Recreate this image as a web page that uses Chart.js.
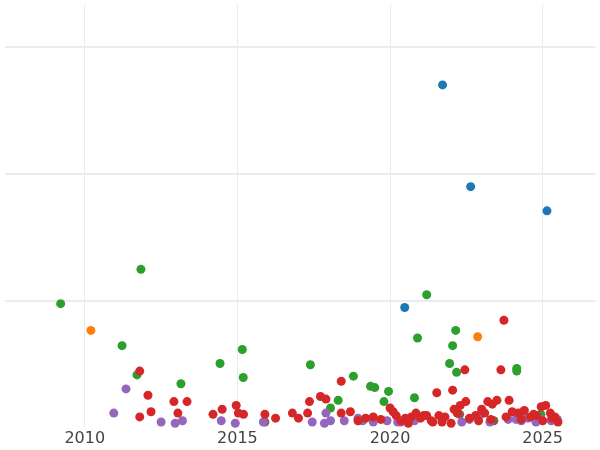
<!DOCTYPE html>
<html>
<head>
<script src="https://cdn.jsdelivr.net/npm/chart.js@4"></script>
<style>body{margin:0}#c{width:600px;height:450px}</style>
</head>
<body>
<div id="c"><canvas id="chart"></canvas></div>
<script>
const blueX = [2021.72, 2022.64, 2025.14, 2020.48];
const blueY = [270, 190, 171, 95];
const orangeX = [2010.2, 2022.87];
const orangeY = [77, 72];
const greenX = [2009.21, 2011.84, 2011.22, 2011.71, 2013.15, 2014.43, 2015.16, 2015.19, 2017.39, 2018.05, 2018.3, 2018.8, 2019.36, 2019.5, 2019.8, 2019.95, 2020.8, 2020.9, 2021.2, 2021.95, 2022.05, 2022.15, 2022.18, 2024.15, 2024.15, 2024.94];
const greenY = [98, 125, 65, 42, 35, 51, 62, 40, 50, 16, 22, 41, 33, 32, 21, 29, 24, 71, 105, 51, 65, 77, 44, 47, 45, 11];
const redX = [2011.8, 2012.07, 2012.17, 2011.8, 2012.92, 2013.05, 2013.35, 2014.2, 2014.5, 2014.96, 2015.03, 2015.2, 2015.9, 2016.25, 2016.8, 2017.0, 2017.36, 2017.3, 2017.72, 2017.9, 2018.4, 2018.4, 2018.7, 2018.95, 2019.2, 2019.45,
  2019.7, 2020.0, 2020.2, 2020.35, 2020.5, 2020.7, 2020.85, 2021.0, 2021.2, 2021.35, 2021.53, 2021.6, 2021.8, 2022.05, 2022.1, 2022.3, 2022.45, 2022.48, 2022.6, 2022.8, 2023.0, 2023.2, 2023.35, 2023.5, 2023.63, 2023.73, 2023.9, 2024.0, 2024.2, 2024.4, 2024.6, 2024.8, 2024.95, 2025.1, 2025.25, 2025.4, 2025.5, 2020.1, 2020.6, 2021.1, 2021.7, 2022.2, 2022.9, 2023.3, 2023.8, 2024.3, 2024.7, 2025.0, 2025.3, 2023.1, 2022.0, 2021.4];
const redY = [45, 26, 13, 9, 21, 12, 21, 11, 15, 18, 12, 11, 11, 8, 12, 8, 21, 12, 25, 23, 37, 12, 13, 6, 8, 9,
  7, 16, 10, 6, 8, 9, 12, 8, 10, 6, 28, 10, 9, 30, 15, 18, 46, 21, 8, 10, 15, 21, 19, 22, 46, 85, 22, 13, 12, 14, 9, 10, 17, 18, 12, 9, 5, 13, 4, 10, 5, 12, 6, 7, 9, 7, 11, 6, 8, 12, 4, 5];
const purpleX = [2011.35, 2010.95, 2012.5, 2012.96, 2013.2, 2014.47, 2014.93, 2015.85, 2017.45, 2017.9, 2017.85, 2018.05, 2018.5, 2018.95, 2019.1, 2019.45, 2019.9, 2020.25, 2020.35, 2020.8, 2022.35, 2022.6, 2022.97, 2023.27, 2023.87, 2024.13, 2024.3, 2024.36, 2024.52, 2024.78, 2024.95, 2025.28, 2025.48];
const purpleY = [31, 12, 5, 4, 6, 6, 4, 5, 5, 12, 4, 6, 6, 8, 6, 5, 6, 5, 5, 6, 5, 7, 11, 5, 7, 7, 6, 13, 8, 5, 7, 6, 7];
const brownX = [2022.28, 2023.4, 2015.9];
const brownY = [11, 6, 5];

function pts(xs, ys) { return xs.map((x, i) => ({x: x, y: ys[i]})); }
function ds(xs, ys, color) {
    return {data: pts(xs, ys), backgroundColor: color, borderWidth: 0, pointRadius: 4.5, pointHoverRadius: 4.5, clip: false};
}

new Chart(document.getElementById('chart'), {
    type: 'scatter',
    data: {
        datasets: [
            ds(redX, redY, '#d62728'),
            ds(purpleX, purpleY, '#9467bd'),
            ds(brownX, brownY, '#8c564b'),
            ds(greenX, greenY, '#2ca02c'),
            ds(orangeX, orangeY, '#ff7f0e'),
            ds(blueX, blueY, '#1f77b4')
        ]
    },
    options: {
        responsive: true,
        maintainAspectRatio: false,
        animation: false,
        plugins: {legend: {display: false}, tooltip: {enabled: false}},
        scales: {
            x: {
                type: 'linear', min: 2007.37, max: 2026.73,
                afterBuildTicks: (a) => { a.ticks = [2010, 2015, 2020, 2025].map(v => ({value: v})); },
                ticks: {font: {family: 'DejaVu Sans', size: 16}, color: '#444', padding: 2, callback: v => v},
                grid: {color: '#ebebeb', drawTicks: false},
                border: {display: false}
            },
            y: {
                min: 1.2, max: 333.2,
                afterBuildTicks: (a) => { a.ticks = [100, 200, 300].map(v => ({value: v})); },
                ticks: {display: false},
                grid: {color: '#ebebeb', lineWidth: 2, drawTicks: false},
                border: {display: false}
            }
        }
    }
});
</script>
</body>
</html>
